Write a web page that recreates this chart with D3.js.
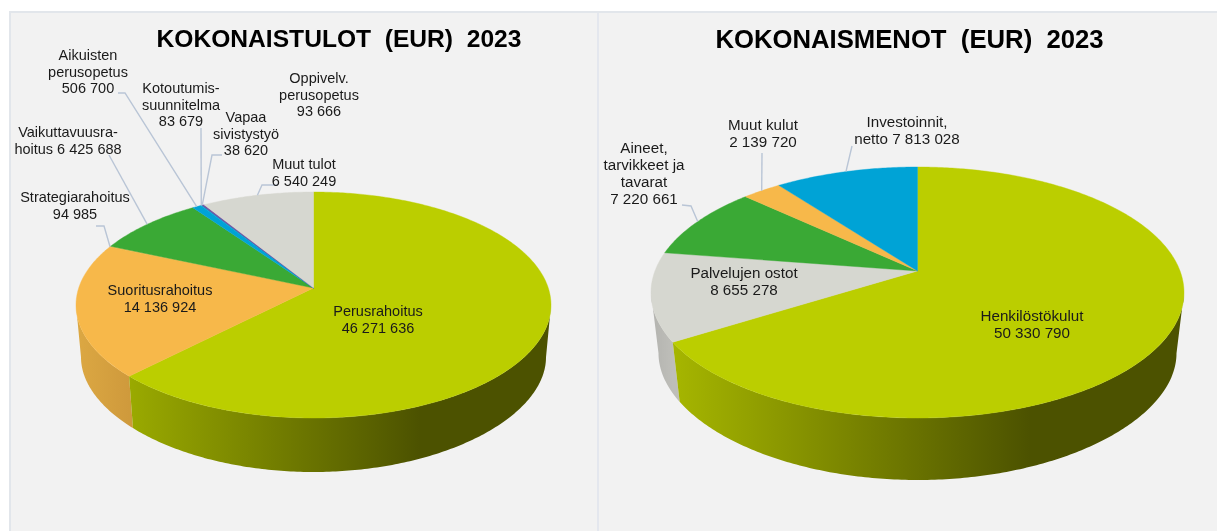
<!DOCTYPE html>
<html><head><meta charset="utf-8">
<style>html,body{margin:0;padding:0;background:#fff}svg{display:block;filter:blur(0.35px)}text{font-family:"Liberation Sans",Arial,sans-serif;fill:#1a1a1a;white-space:pre}</style>
<script src="https://cdnjs.cloudflare.com/ajax/libs/d3/7.8.5/d3.min.js"></script>
</head><body><svg id="c" width="1217" height="531"></svg>
<script>
const incomeTitle = "KOKONAISTULOT  (EUR)  2023";
const incomeLabels = [["Perusrahoitus","46 271 636"],["Suoritusrahoitus","14 136 924"],["Strategiarahoitus","94 985"],["Vaikuttavuusra-","hoitus 6 425 688"],["Aikuisten","perusopetus","506 700"],["Kotoutumis-","suunnitelma","83 679"],["Vapaa","sivistystyö","38 620"],["Oppivelv.","perusopetus","93 666"],["Muut tulot","6 540 249"]];
const incomeValues = [46271636,14136924,94985,6425688,506700,83679,38620,93666,6540249];
const incomeColors = ["#bbce00","#f7b84a","#f7b84a","#3aa935","#00a3d6","#00a3d6","#6b4f9e","#6b4f9e","#d6d7d0"];
const incomeWallColors = [["#9aaa00","#4c5200"],["#dca843","#cf9a3c"]];

const costTitle = "KOKONAISMENOT  (EUR)  2023";
const costLabels = [["Henkilöstökulut","50 330 790"],["Palvelujen ostot","8 655 278"],["Aineet,","tarvikkeet ja","tavarat","7 220 661"],["Muut kulut","2 139 720"],["Investoinnit,","netto 7 813 028"]];
const costValues = [50330790,8655278,7220661,2139720,7813028];
const costColors = ["#bbce00","#d6d7d0","#3aa935","#f7b84a","#00a3d6"];
const costWallColors = [["#a6b600","#4c5200"],["#b3b3af","#bebeb9"]];

// layout: label centre x, first line centre y, optional leader (elbow points, ends on the slice rim)
const incomeLayout = [
 {x:378,y:311},{x:160,y:290},
 {x:75,y:197,lead:[[96,226],[104,226]]},
 {x:68,y:132,lead:[[109,155]]},
 {x:88,y:55,lead:[[118,93],[125,93]]},
 {x:181,y:88,lead:[[201,128]]},
 {x:246,y:117,lead:[[222,155],[212,155]]},
 {x:319,y:78},
 {x:304,y:164,lead:[[278,185],[262,185]]}];
const costLayout = [
 {x:1032,y:316},{x:744,y:273},
 {x:644,y:148,lead:[[682,205],[691,206]]},
 {x:763,y:125,lead:[[762,153]]},
 {x:907,y:122,lead:[[852,146]]}];

const incomeGeom = {id:"a",cx:313.5,ay:288,up:96,down:130,rx:237.5,lowRx:232.5,lowK:0.2,lowBottom:472,gradEnd:420,titleX:339,titleY:47,titleSize:24.6,labelSize:14.5,lineGap:16.6};
const costGeom = {id:"b",cx:917.5,ay:271,up:104,down:147,rx:266.5,lowRx:259,lowK:0.22,lowBottom:480,gradEnd:1030,titleX:909.5,titleY:48,titleSize:25.7,labelSize:15.2,lineGap:17};

const svg = d3.select("#c"), W = 1217, H = 531;
const defs = svg.append("defs");
svg.append("rect").attr("x",9).attr("y",11).attr("width",W-9).attr("height",H-11).attr("fill","#e2e6eb");
svg.append("rect").attr("x",11).attr("y",13).attr("width",W-11).attr("height",H-13).attr("fill","#f2f2f2");
svg.append("rect").attr("x",597).attr("y",13).attr("width",2).attr("height",H-13).attr("fill","#e4e7ee");

function drawPie(title, labels, values, colors, wallColors, layout, g){
  const k = (g.down-g.up)/(g.down+g.up);
  const B = g.up*(1+k), A = g.rx*Math.sqrt(1-k*k);
  const lowA = g.lowRx*Math.sqrt(1-k*k);
  const lowFrac = g.lowRx/g.rx;
  const lowB = B*lowFrac*0.97;
  const lowAy = g.lowBottom - lowB/(1-g.lowK);
  const top = t=>{const w=1+k*Math.cos(t);return [g.cx+A*Math.sin(t)/w, g.ay-B*Math.cos(t)/w];};
  const low = t=>{const w=1+k*Math.cos(t),w2=1+g.lowK*Math.cos(t);return [g.cx+lowA*Math.sin(t)/w, lowAy-lowB*Math.cos(t)/w2];};
  const arcs = d3.pie().sort(null).startAngle(0).endAngle(2*Math.PI)(values);
  const line = d3.line();
  const sample = (a,b)=>{const n=Math.max(2,Math.ceil((b-a)/0.012));return d3.range(n+1).map(i=>a+(b-a)*i/n);};

  const grad = (id,c,x1,x2)=>{const lg=defs.append("linearGradient").attr("id",id).attr("gradientUnits","userSpaceOnUse").attr("x1",x1).attr("x2",x2).attr("y1",0).attr("y2",0);
    lg.append("stop").attr("offset",0).attr("stop-color",c[0]);lg.append("stop").attr("offset",1).attr("stop-color",c[1]);};

  // walls run between the two silhouette angles, where the rim is widest, so the outline never folds
  const wallFrom = Math.acos(-k), wallTo = 2*Math.PI-wallFrom;
  const big = arcs[0];
  grad(g.id+"w0",wallColors[0],top(big.endAngle)[0],g.gradEnd);
  const wall = (a,b,fill)=>{const s=sample(a,b);
    svg.append("path").attr("d",line(s.map(top).concat(s.slice().reverse().map(low)))+"Z").attr("fill",fill);};
  const second = arcs[1];
  const secStart = second.startAngle, secEnd = Math.min(second.endAngle, wallTo);
  grad(g.id+"w1",wallColors[1],top(secEnd)[0],top(secStart)[0]);
  wall(secStart,secEnd,`url(#${g.id}w1)`);
  wall(wallFrom,big.endAngle,`url(#${g.id}w0)`);

  // top faces
  arcs.forEach((d,i)=>{
    const pts=[[g.cx,g.ay]].concat(sample(d.startAngle,d.endAngle).map(top));
    svg.append("path").attr("d",line(pts)+"Z").attr("fill",colors[i]).attr("stroke",colors[i]).attr("stroke-width",0.4);
  });

  // leader lines
  arcs.forEach((d,i)=>{
    const lay=layout[i]; if(!lay.lead) return;
    const end=top((d.startAngle+d.endAngle)/2);
    svg.append("path").attr("d",line(lay.lead.concat([end]))).attr("fill","none").attr("stroke","#b9c5d6").attr("stroke-width",1.4);
  });

  // labels
  labels.forEach((ls,i)=>{
    const lay=layout[i];
    const t=svg.append("text").attr("text-anchor","middle").attr("font-size",g.labelSize);
    ls.forEach((s,j)=>t.append("tspan").attr("x",lay.x).attr("y",lay.y+5+j*g.lineGap).text(s));
  });

  svg.append("text").attr("x",g.titleX).attr("y",g.titleY).attr("text-anchor","middle").attr("font-size",g.titleSize).attr("font-weight","bold").style("fill","#000").text(title);
}
drawPie(incomeTitle,incomeLabels,incomeValues,incomeColors,incomeWallColors,incomeLayout,incomeGeom);
drawPie(costTitle,costLabels,costValues,costColors,costWallColors,costLayout,costGeom);
</script></body></html>
